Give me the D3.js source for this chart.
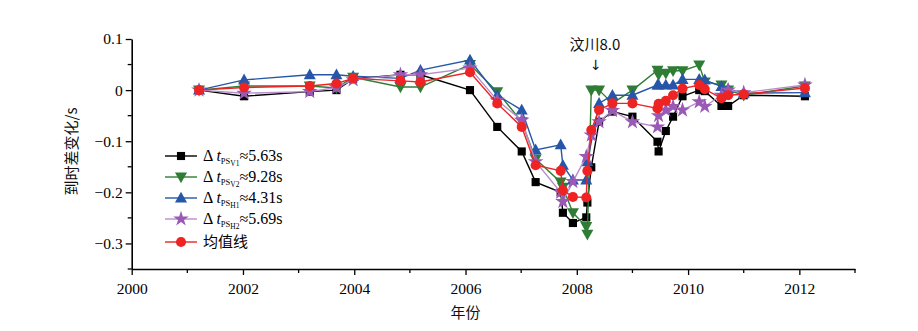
<!DOCTYPE html>
<html><head><meta charset="utf-8">
<script src="https://cdn.jsdelivr.net/npm/d3@7"></script>
<style>
html,body{margin:0;padding:0;background:#fff;}
svg{display:block;}
</style>
</head><body>
<svg id="chart" width="918" height="331"></svg>
<script>
const years = [2001.21, 2002.02, 2003.2, 2003.68, 2003.98, 2004.83, 2005.19, 2006.08, 2006.57, 2007.01, 2007.26, 2007.71, 2007.75, 2007.93, 2008.17, 2008.19, 2008.26, 2008.4, 2008.64, 2009.0, 2009.45, 2009.47, 2009.6, 2009.73, 2009.9, 2010.2, 2010.3, 2010.6, 2010.72, 2011.0, 2012.1];
const psV1 = [0, -0.012, -0.003, 0.0, 0.022, 0.03, 0.03, 0.0, -0.072, -0.12, -0.18, -0.2, -0.24, -0.26, -0.249, -0.22, -0.151, -0.062, -0.042, -0.052, -0.101, -0.12, -0.08, -0.052, -0.012, 0.0, -0.002, -0.031, -0.031, -0.01, -0.012];
const psV2 = [0, 0.008, 0.008, 0.004, 0.025, 0.006, 0.006, 0.05, -0.003, -0.062, -0.135, -0.18, -0.19, -0.24, -0.267, -0.282, 0.0, 0.0, -0.026, 0.0, 0.039, 0.03, 0.033, 0.038, 0.038, 0.049, 0.016, 0.01, 0.0, -0.01, 0.008];
const psH1 = [0, 0.02, 0.03, 0.03, 0.027, 0.023, 0.039, 0.059, -0.01, -0.039, -0.117, -0.107, -0.147, -0.176, -0.176, -0.14, null, -0.026, -0.01, -0.01, 0.01, 0.01, 0.01, 0.01, 0.021, 0.021, 0.02, 0.007, 0.002, -0.006, -0.005];
const psH2 = [0, -0.006, -0.003, 0.005, 0.02, 0.03, 0.03, 0.043, -0.02, -0.059, -0.14, -0.2, -0.218, -0.179, -0.13, null, -0.088, -0.062, -0.04, -0.062, -0.072, -0.05, -0.039, -0.032, -0.039, -0.023, -0.032, -0.01, 0.0, -0.005, 0.01];
const meanLine = [0, 0.005, 0.008, 0.013, 0.023, 0.018, 0.016, 0.035, -0.026, -0.072, -0.147, -0.158, -0.196, -0.209, -0.21, -0.158, -0.078, -0.039, -0.026, -0.026, -0.036, -0.027, -0.021, -0.01, 0.003, 0.01, 0.002, -0.016, -0.01, -0.008, 0.004];

const xTicksMajor = [2000, 2002, 2004, 2006, 2008, 2010, 2012];
const xTicksMinor = [2001, 2003, 2005, 2007, 2009, 2011, 2013];
const yTicksMajor = [-0.3, -0.2, -0.1, 0, 0.1];
const yTicksMinor = [-0.35, -0.25, -0.15, -0.05, 0.05];

const seriesNames = [
  {sub1: "PS", sub2: "V1", val: "≈5.63s"},
  {sub1: "PS", sub2: "V2", val: "≈9.28s"},
  {sub1: "PS", sub2: "H1", val: "≈4.31s"},
  {sub1: "PS", sub2: "H2", val: "≈5.69s"},
  {label: "均值线"}
];
const xLabel = "年份";
const yLabel = "到时差变化/s";
const quakeLabel = "汶川8.0";
const quakeYear = 2008.36;

const styles = [
  {data: psV1, color: "#000000", line: "#000000", sym: d3.symbolSquare, size: 66},
  {data: psV2, color: "#2f7d35", line: "#2f7d35", sym: "tridown", size: 12},
  {data: psH1, color: "#2656a8", line: "#2656a8", sym: "triup", size: 12},
  {data: psH2, color: "#9b59b6", line: "#b98ccb", sym: d3.symbolStar, size: 75},
  {data: meanLine, color: "#ee2323", line: "#ee2323", sym: d3.symbolCircle, size: 80}
];

const svg = d3.select("#chart");
const serif = "'Liberation Serif','Times New Roman',serif";
const cjk = "'Noto Sans CJK SC','Liberation Serif',serif";

const x = d3.scaleLinear().domain([2000, 2013]).range([131.7, 855]);
const y = d3.scaleLinear().domain([-0.35, 0.1]).range([269, 39]);

function markerPath(st) {
  if (st.sym === "triup") {
    const s = st.size / 2;
    return `M0,${-s*1.05}L${s},${s*0.75}L${-s},${s*0.75}Z`;
  }
  if (st.sym === "tridown") {
    const s = st.size / 2;
    return `M0,${s*1.05}L${s},${-s*0.75}L${-s},${-s*0.75}Z`;
  }
  return d3.symbol().type(st.sym).size(st.size)();
}

const line = d3.line().x(d => x(d[0])).y(d => y(d[1]));

styles.forEach((st, i) => {
  const pts = years.map((yr, k) => [yr, st.data[k]]).filter(d => d[1] !== null);
  const g = svg.append("g");
  g.append("path").datum(pts).attr("d", line)
    .attr("fill", "none").attr("stroke", st.line).attr("stroke-width", 1.4);
  g.selectAll("path.m").data(pts).enter().append("path").attr("class", "m")
    .attr("d", markerPath(st))
    .attr("transform", d => `translate(${x(d[0])},${y(d[1])})`)
    .attr("fill", st.color);
});

// axes
const axisColor = "#000";
const gx = svg.append("g").attr("transform", "translate(0,269)");
gx.call(d3.axisBottom(x).tickValues(xTicksMajor).tickFormat(d3.format("d")).tickSize(6).tickSizeOuter(0))
  .call(g => g.select(".domain").attr("stroke-width", 1.6))
  .call(g => g.selectAll(".tick line").attr("stroke-width", 1.3))
  .call(g => g.selectAll("text").attr("font-family", serif).attr("font-size", 15.5).attr("fill", "#000").attr("dy", "1.05em"));
gx.selectAll("line.minor").data(xTicksMinor).enter().append("line").attr("class", "minor")
  .attr("x1", d => x(d)).attr("x2", d => x(d)).attr("y1", 0).attr("y2", 4)
  .attr("stroke", axisColor).attr("stroke-width", 1.3);

const gy = svg.append("g").attr("transform", "translate(131.7,0)");
gy.call(d3.axisLeft(y).tickValues(yTicksMajor).tickFormat(d => d === 0 ? "0" : d3.format(".1f")(d).replace("-", "−")).tickSize(6).tickSizeOuter(0))
  .call(g => g.select(".domain").attr("stroke-width", 1.6))
  .call(g => g.selectAll(".tick line").attr("stroke-width", 1.3))
  .call(g => g.selectAll("text").attr("font-family", serif).attr("font-size", 15.5).attr("fill", "#000").attr("x", -9));
gy.selectAll("line.minor").data(yTicksMinor).enter().append("line").attr("class", "minor")
  .attr("x1", -4).attr("x2", 0).attr("y1", d => y(d)).attr("y2", d => y(d))
  .attr("stroke", axisColor).attr("stroke-width", 1.3);

// axis titles
svg.append("text").attr("x", x(2006)).attr("y", 318).attr("text-anchor", "middle")
  .attr("font-family", cjk).attr("font-size", 15).attr("fill", "#111").text(xLabel);
svg.append("text").attr("transform", `translate(77,${y(-0.12)}) rotate(-90)`).attr("text-anchor", "middle")
  .attr("font-family", cjk).attr("font-size", 15).attr("fill", "#111").text(yLabel);

// quake annotation
svg.append("text").attr("x", x(quakeYear) - 2).attr("y", 50).attr("text-anchor", "middle")
  .attr("font-family", cjk).attr("font-size", 15).attr("fill", "#111").text(quakeLabel);
svg.append("text").attr("x", x(quakeYear) - 1).attr("y", 70).attr("text-anchor", "middle")
  .attr("font-family", "'DejaVu Sans',sans-serif").attr("font-size", 14).attr("fill", "#111").text("↓");

// legend
const lg = svg.append("g").attr("transform", "translate(165,156)");
const rowY = [0, 21, 42, 63, 86];
styles.forEach((st, i) => {
  const yy = rowY[i];
  lg.append("line").attr("x1", 0).attr("x2", 32).attr("y1", yy).attr("y2", yy)
    .attr("stroke", st.line).attr("stroke-width", 1.4);
  lg.append("path").attr("d", markerPath(st)).attr("transform", `translate(16,${yy})`).attr("fill", st.color);
  const nm = seriesNames[i];
  const t = lg.append("text").attr("x", 38).attr("y", yy + 5).attr("font-family", serif).attr("font-size", 16).attr("fill", "#000");
  if (nm.label) {
    t.attr("font-family", cjk).attr("font-size", 15).text(nm.label);
  } else {
    t.append("tspan").text("Δ ");
    t.append("tspan").attr("font-style", "italic").text("t");
    t.append("tspan").attr("font-size", 8.5).attr("dy", 2.5).text(nm.sub1);
    t.append("tspan").attr("font-size", 7.5).attr("dy", 2).text(nm.sub2);
    t.append("tspan").attr("dy", -4.5).text(nm.val);
  }
});
</script>
</body></html>
